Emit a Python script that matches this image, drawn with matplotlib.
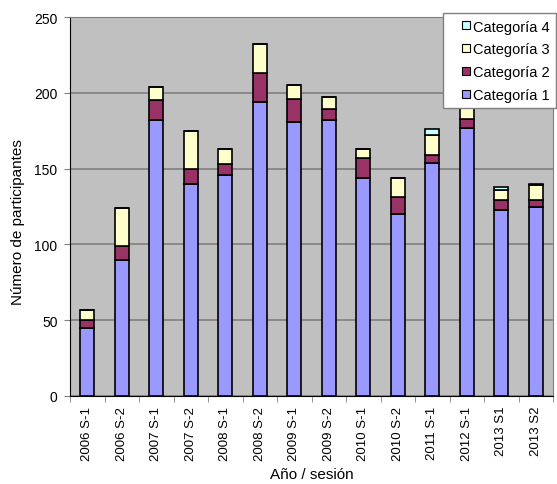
import numpy as np
import matplotlib
matplotlib.use("Agg")
from matplotlib import pyplot as plt
from matplotlib.lines import Line2D

plt.rcParams['font.family'] = ['Liberation Sans', 'DejaVu Sans']

sesiones = ['2006 S-1', '2006 S-2', '2007 S-1', '2007 S-2', '2008 S-1', '2008 S-2',
            '2009 S-1', '2009 S-2', '2010 S-1', '2010 S-2', '2011 S-1', '2012 S-1',
            '2013 S1', '2013 S2']
cat1 = [45, 90, 182, 140, 146, 194, 181, 182, 144, 120, 154, 177, 123, 125]
cat2 = [5, 9, 13, 10, 7, 19, 15, 7, 13, 11, 5, 6, 6, 4]
cat3 = [7, 25, 9, 25, 10, 19, 9, 8, 6, 13, 13, 17, 7, 10]
cat4 = [0, 0, 0, 0, 0, 0, 0, 0, 0, 0, 4, 0, 2, 1]

series = [cat1, cat2, cat3, cat4]
nombres = ['Categoría 1', 'Categoría 2', 'Categoría 3', 'Categoría 4']
colores = ['#9999FF', '#993366', '#FFFFCC', '#CCFFFF']

fig = plt.figure(figsize=(5.57, 4.85), dpi=100)
ax = fig.add_axes([70/557, 1-397/485, (553-70)/557, (397-18)/485])
ax.set_facecolor('#C0C0C0')

x = np.arange(len(sesiones))
base = np.zeros(len(sesiones))
for vals, c in zip(series, colores):
    v = np.array(vals, dtype=float)
    ax.bar(x, v, bottom=base, width=0.42, color=c, edgecolor='black', linewidth=1.2, zorder=3)
    base += v

ax.set_ylim(0, 250)
ax.set_xlim(-0.5, len(sesiones) - 0.5)
ax.set_yticks(range(0, 251, 50))
ax.yaxis.grid(True, color='#808080', linewidth=1.2, zorder=0)
ax.set_xticks(x)
ax.set_xticklabels(sesiones, rotation=90, fontsize=9.5)
ax.tick_params(axis='x', length=0, pad=7)
ax.set_xticks(np.arange(-0.5, len(sesiones), 1), minor=True)
ax.tick_params(axis='x', which='minor', length=4, color='#808080')
ax.tick_params(axis='y', labelsize=10, length=4, color='#808080', pad=5)
for s in ['left', 'bottom']:
    ax.spines[s].set_color('black')
for s in ['top', 'right']:
    ax.spines[s].set_color('#808080')

ax.set_ylabel('Número de participantes', fontsize=11)
ax.yaxis.set_label_coords((25 - 70) / 483, (397 - 222) / 379)
ax.set_xlabel('Año / sesión', fontsize=11, labelpad=5)

# marcadores cuadrados como en Excel
handles = [Line2D([], [], linestyle='none', marker='s', markersize=6,
                  markerfacecolor=c, markeredgecolor='black', markeredgewidth=0.8)
           for c in colores]
leg = fig.legend(handles[::-1], nombres[::-1], loc='upper left',
                 bbox_to_anchor=(443/557, 1-14/485), fontsize=10.5,
                 handlelength=2.2, handletextpad=-0.6,
                 labelspacing=0.6, borderpad=0.45, borderaxespad=0,
                 frameon=True, fancybox=False, framealpha=1)
leg.get_frame().set_edgecolor('#808080')
leg.get_frame().set_linewidth(1)

fig.savefig('out.png', dpi=100)
